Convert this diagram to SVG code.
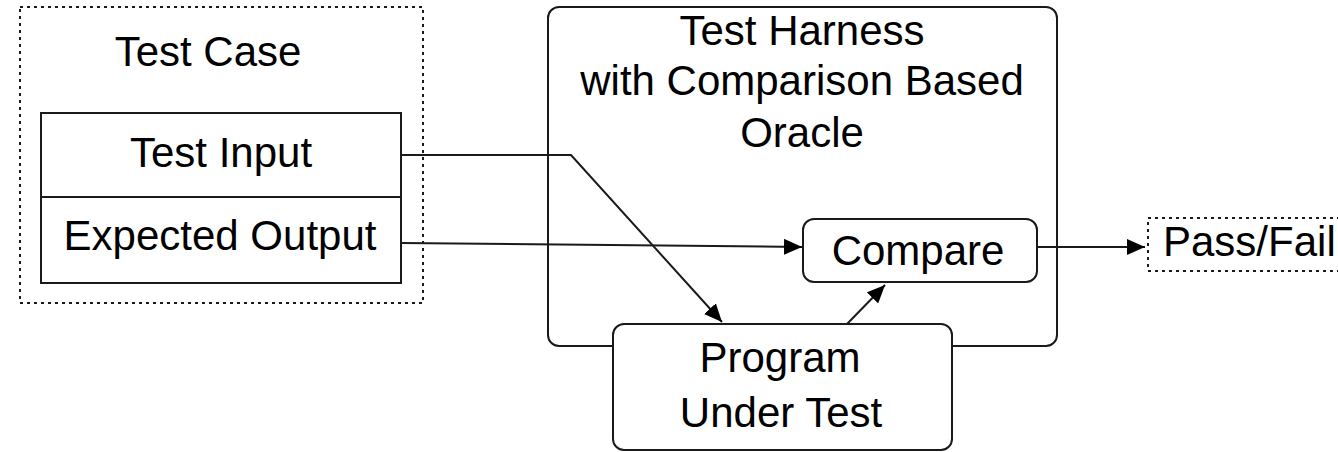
<svg xmlns="http://www.w3.org/2000/svg" width="1338" height="452" viewBox="0 0 1338 452">
<style>
text{font-family:"Liberation Sans",Arial,sans-serif;font-size:42px;fill:#000;text-anchor:middle}
.box{fill:#fff;stroke:#1a1a1a;stroke-width:2}
.dash{fill:none;stroke:#1a1a1a;stroke-width:2;stroke-dasharray:3 4}
.conn{fill:none;stroke:#1a1a1a;stroke-width:2}
</style>
<defs>
<marker id="arr" markerUnits="userSpaceOnUse" markerWidth="19" markerHeight="16" refX="18" refY="8" orient="auto">
<path d="M0,0 L18,8 L0,16 z" fill="#000"/>
</marker>
</defs>
<rect width="1338" height="452" fill="#fff"/>
<g id="harness">
<rect class="box" x="548" y="7" width="509" height="339" rx="11"/>
<text x="802" y="45">Test Harness</text>
<text x="802" y="95">with Comparison Based</text>
<text x="802" y="147">Oracle</text>
</g>
<g id="testcase">
<rect class="box" x="41" y="113" width="360" height="170"/>
<line x1="41" y1="197" x2="401" y2="197" stroke="#1a1a1a" stroke-width="2"/>
<text x="208" y="66">Test Case</text>
<text x="221" y="167">Test Input</text>
<text x="220" y="250">Expected Output</text>
</g>
<g id="program">
<rect class="box" x="613" y="324" width="339" height="126" rx="11"/>
<text x="780" y="372">Program</text>
<text x="781" y="427">Under Test</text>
</g>
<g id="compare">
<rect class="box" x="803" y="219" width="234" height="63" rx="11"/>
<text x="918" y="265">Compare</text>
</g>
<g id="passfail">
<rect class="dash" x="1148" y="218" width="220" height="53"/>
<text x="1163" y="256" style="text-anchor:start">Pass/Fail</text>
</g>
<g id="connectors">
<polyline class="conn" points="401,155 571,155 722,322" marker-end="url(#arr)"/>
<line class="conn" x1="401" y1="243" x2="802" y2="247" marker-end="url(#arr)"/>
<line class="conn" x1="847" y1="324" x2="885" y2="285" marker-end="url(#arr)"/>
<line class="conn" x1="1037" y1="247" x2="1145" y2="247" marker-end="url(#arr)"/>
</g>
<rect class="dash" x="20" y="7" width="403" height="296"/>
</svg>
